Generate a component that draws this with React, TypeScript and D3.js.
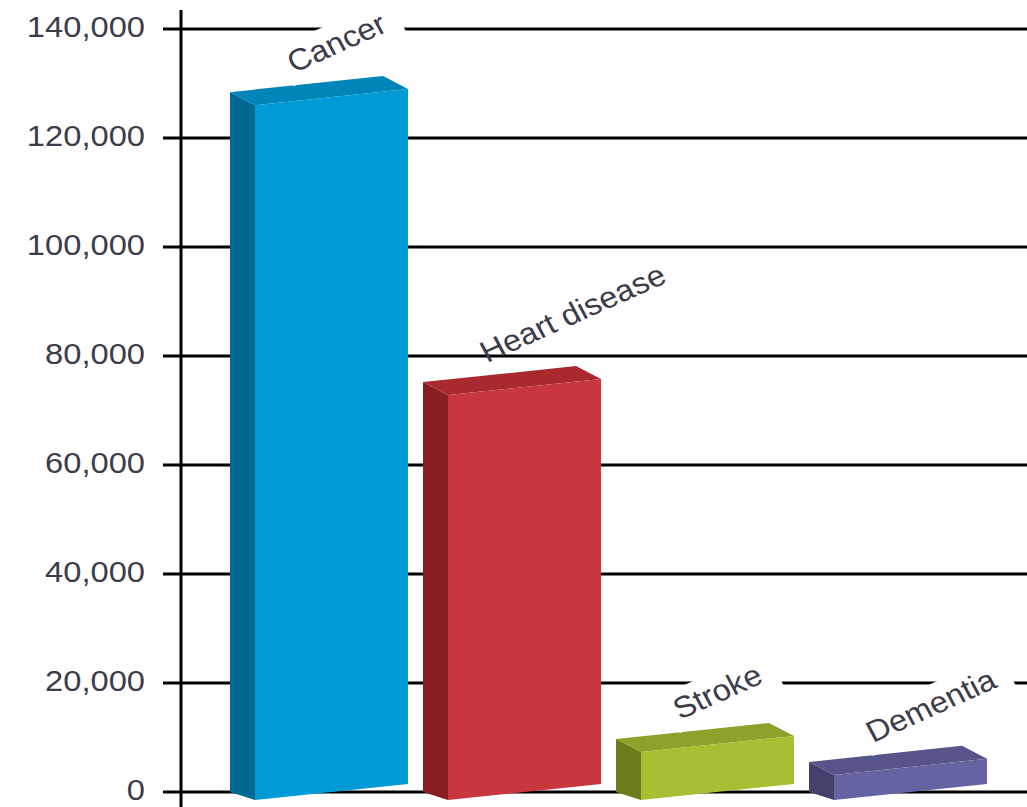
import React, { useEffect, useRef } from "react";
import * as d3 from "d3";

const categories = ["Cancer", "Heart disease", "Stroke", "Dementia"];
const deaths = [127500, 74300, 8800, 4600];
const yTicks = [0, 20000, 40000, 60000, 80000, 100000, 120000, 140000];
const frontColors = ["#009ad6", "#c9373e", "#a9be33", "#6663a3"];
const sideColors = ["#006991", "#871e22", "#6a7c1b", "#43406c"];
const topColors = ["#0085b9", "#a9292f", "#8fa12a", "#57548a"];
const labelBackdrop = [true, false, true, true];

const W = 1027;
const H = 807;

export default function App() {
  const ref = useRef<SVGSVGElement | null>(null);

  useEffect(() => {
    const svg = d3.select(ref.current);
    svg.selectAll("*").remove();

    const y = d3.scaleLinear().domain([0, 140000]).range([792, 29]);
    const x = d3
      .scaleBand<string>()
      .domain(categories)
      .range([255, 987])
      .paddingInner(40 / 193)
      .paddingOuter(0);
    const bw = x.bandwidth();
    const fmt = d3.format(",");
    const font = "'Liberation Sans', Arial, sans-serif";
    const textFill = "#3c3c4a";

    // gridlines
    svg
      .append("g")
      .selectAll("line")
      .data(yTicks)
      .join("line")
      .attr("x1", 163)
      .attr("x2", W)
      .attr("y1", (d) => y(d))
      .attr("y2", (d) => y(d))
      .attr("stroke", "#000")
      .attr("stroke-width", 3);

    // axis line
    svg
      .append("line")
      .attr("x1", 181)
      .attr("x2", 181)
      .attr("y1", 10)
      .attr("y2", H)
      .attr("stroke", "#000")
      .attr("stroke-width", 3);

    // tick labels
    svg
      .append("g")
      .selectAll("text")
      .data(yTicks)
      .join("text")
      .attr("transform", (d) => `translate(145,${y(d) - 2}) scale(1.09,1)`)
      .attr("text-anchor", "end")
      .attr("dominant-baseline", "central")
      .attr("font-family", font)
      .attr("font-size", 30)
      .attr("fill", textFill)
      .text((d) => fmt(d));

    const slope = 0.105;
    const topOff: [number, number] = [-25, -13];
    const botOff: [number, number] = [-25, -8];

    const pts = (p: number[][]) => p.map((q) => q.join(",")).join(" ");

    categories.forEach((c, i) => {
      const x0 = x(c) as number;
      const x1 = x0 + bw;
      const bottomL = y(0) + 8;
      const bottomR = bottomL - slope * bw;
      const h = y(0) - y(deaths[i]);
      const topL = bottomL - h;
      const topR = bottomR - h;
      const g = svg.append("g");
      g.append("polygon")
        .attr(
          "points",
          pts([
            [x0, topL],
            [x0, bottomL],
            [x0 + botOff[0], bottomL + botOff[1]],
            [x0 + topOff[0], topL + topOff[1]],
          ])
        )
        .attr("fill", sideColors[i]);
      g.append("polygon")
        .attr(
          "points",
          pts([
            [x0, topL],
            [x1, topR],
            [x1 + topOff[0], topR + topOff[1]],
            [x0 + topOff[0], topL + topOff[1]],
          ])
        )
        .attr("fill", topColors[i]);
      g.append("polygon")
        .attr(
          "points",
          pts([
            [x0, topL],
            [x1, topR],
            [x1, bottomR],
            [x0, bottomL],
          ])
        )
        .attr("fill", frontColors[i]);

      // label
      const lg = svg
        .append("g")
        .attr("transform", `translate(${x0 + 39},${topL - 32}) scale(1.09,1) rotate(-26)`);
      const t = lg
        .append("text")
        .attr("font-family", font)
        .attr("font-size", 30)
        .attr("fill", textFill)
        .text(c);
      if (labelBackdrop[i]) {
        const bb = (t.node() as SVGTextElement).getBBox();
        lg.insert("rect", "text")
          .attr("x", bb.x - 6)
          .attr("y", bb.y - 3)
          .attr("width", bb.width + 20)
          .attr("height", bb.height + 8)
          .attr("fill", "#fff");
      }
    });
  }, []);

  return (
    <svg
      ref={ref}
      width={W}
      height={H}
      style={{ position: "absolute", left: 0, top: 0, background: "#fff" }}
    />
  );
}
